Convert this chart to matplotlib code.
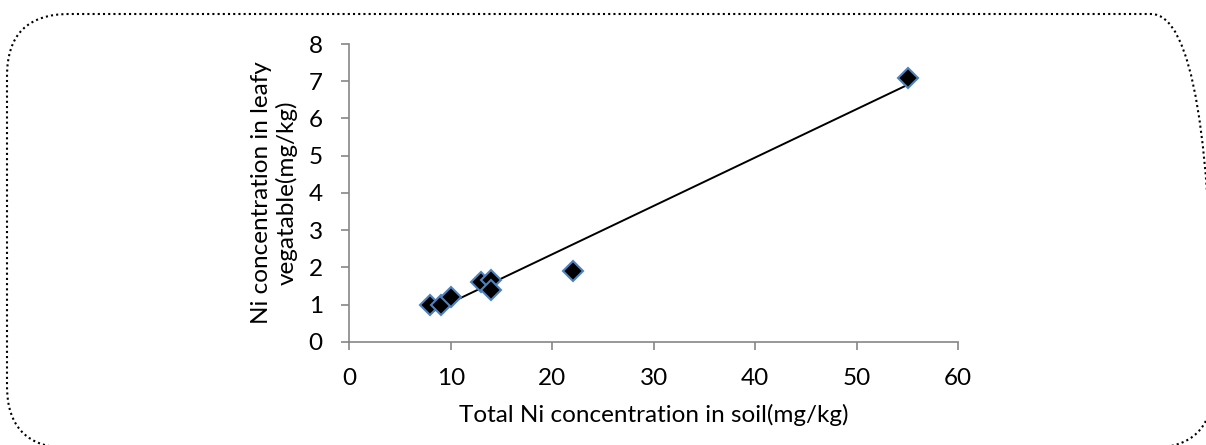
import matplotlib
matplotlib.use("Agg")
import matplotlib.pyplot as plt
import numpy as np
from matplotlib.patches import FancyBboxPatch
from matplotlib.transforms import IdentityTransform

# soil Ni vs leafy vegetable Ni (mg/kg)
soil_ni = np.array([8, 9, 10, 13, 14, 14, 22, 55])
veg_ni = np.array([1.0, 1.0, 1.2, 1.6, 1.65, 1.4, 1.9, 7.1])

x_ticks = [0, 10, 20, 30, 40, 50, 60]
y_ticks = [0, 1, 2, 3, 4, 5, 6, 7, 8]

x_label = "Total Ni concentration in soil(mg/kg)"
y_label = "Ni concentration in leafy\nvegatable(mg/kg)"

plt.rcParams['font.family'] = ['Lato', 'DejaVu Sans']

fig = plt.figure(figsize=(12.06, 4.45), dpi=100)
ax = fig.add_axes([0.2896, 0.2321, 0.505, 0.669])

# linear trendline over the data range
slope, intercept = np.polyfit(soil_ni, veg_ni, 1)
xs = np.array([soil_ni.min(), soil_ni.max()])
ax.plot(xs, slope * xs + intercept, color='black', lw=1.4, zorder=2)

ax.plot(soil_ni, veg_ni, linestyle='none', marker='D', ms=10,
        mfc='black', mec='#4f81bd', mew=1.5, zorder=3)

ax.set_xlim(0, 60)
ax.set_ylim(0, 8)
ax.set_xticks(x_ticks)
ax.set_yticks(y_ticks)
ax.tick_params(labelsize=17.5, length=6, width=1.2, color='#868686', pad=13)

for side in ['top', 'right']:
    ax.spines[side].set_visible(False)
for side in ['left', 'bottom']:
    ax.spines[side].set_color('#868686')
    ax.spines[side].set_linewidth(1.2)

ax.set_xlabel(x_label, fontsize=17.5, labelpad=11)
ax.set_ylabel(y_label, fontsize=17.5, labelpad=8, linespacing=1.2)

# dotted rounded frame around the chart (pixel coords, right/bottom run off the image)
frame = FancyBboxPatch((7, -3), 1206, 434,
                       boxstyle="round,pad=0,rounding_size=62",
                       transform=IdentityTransform(), fill=False,
                       edgecolor='black', linestyle=(0, (1, 1.5)), lw=1.5)
fig.patches.append(frame)

fig.savefig("out.png", dpi=100)
